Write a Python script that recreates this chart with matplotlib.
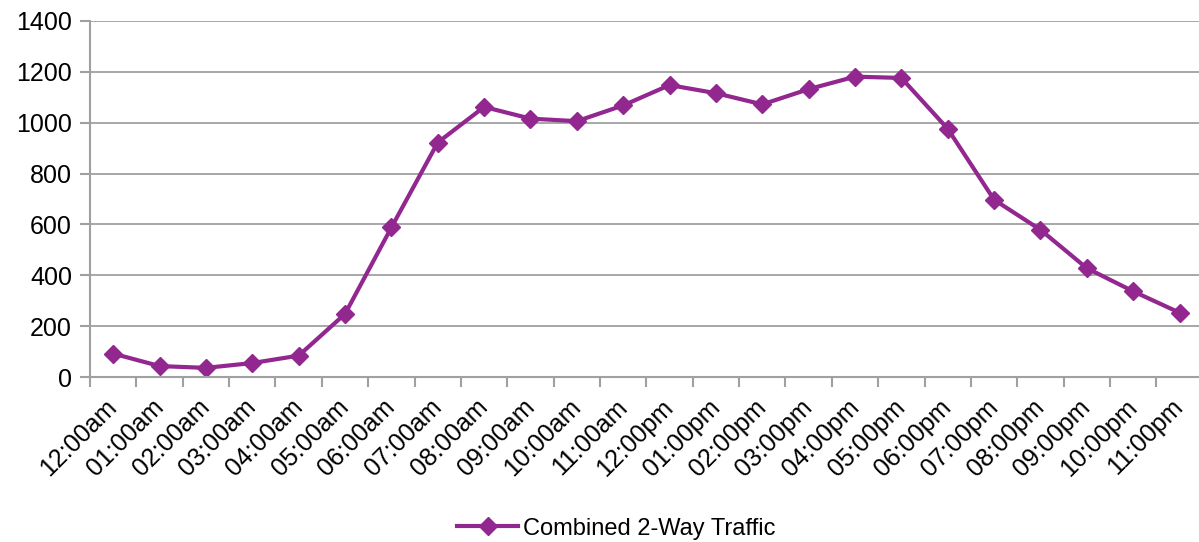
import matplotlib.pyplot as plt
import numpy as np

hours = ["12:00am", "01:00am", "02:00am", "03:00am", "04:00am", "05:00am",
         "06:00am", "07:00am", "08:00am", "09:00am", "10:00am", "11:00am",
         "12:00pm", "01:00pm", "02:00pm", "03:00pm", "04:00pm", "05:00pm",
         "06:00pm", "07:00pm", "08:00pm", "09:00pm", "10:00pm", "11:00pm"]
traffic = [92, 43, 36, 55, 84, 248, 588, 922, 1062, 1016, 1006, 1068,
           1148, 1116, 1072, 1132, 1181, 1176, 976, 697, 579, 428, 337, 253]

purple = "#92278F"
grey = "#A0A0A0"

plt.rcParams["font.family"] = ["Liberation Sans", "DejaVu Sans"]

fig = plt.figure(figsize=(11.99, 5.42), dpi=100)
ax = fig.add_axes([0.0751, 0.3044, 0.928, 0.6569])

x = np.arange(len(hours))
ax.plot(x, traffic, color=purple, lw=3, marker="D", ms=9,
        label="Combined 2-Way Traffic")

ax.set_ylim(0, 1400)
ax.set_yticks(range(0, 1401, 200))
ax.set_xlim(-0.5, len(hours) - 0.5)
ax.yaxis.grid(True, color=grey, lw=1.3)
ax.set_axisbelow(True)

for s in ["top", "right"]:
    ax.spines[s].set_visible(False)
for s in ["left", "bottom"]:
    ax.spines[s].set_color(grey)
    ax.spines[s].set_linewidth(1.5)

# category ticks sit on the boundaries, labels in the middle
ax.set_xticks(np.arange(len(hours) + 1) - 0.5)
ax.set_xticklabels([])
ax.set_xticks(x, minor=True)
ax.set_xticklabels(hours, minor=True, rotation=45, ha="right", va="center",
                   rotation_mode="anchor", fontsize=18)
ax.tick_params(axis="x", which="minor", length=0, pad=19)
ax.tick_params(axis="x", which="major", length=7, color=grey, width=1.5)
ax.tick_params(axis="y", length=7, color=grey, width=1.5, labelsize=18, pad=6)

fig.legend(loc="lower center", bbox_to_anchor=(0.514, -0.035), frameon=False,
           prop={"size": 17}, handlelength=2.6, handletextpad=0.2)

fig.savefig("out.png", dpi=100)
